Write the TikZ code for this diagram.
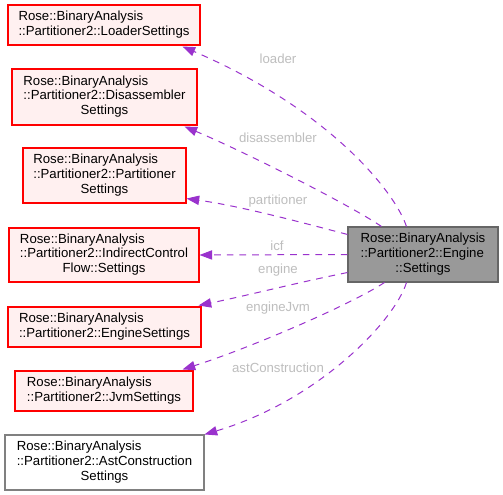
\documentclass[tikz,border=0pt]{standalone}
\usepackage{fontspec}
\setmainfont{Liberation Sans}
\usetikzlibrary{arrows.meta,calc}
\definecolor{edgecol}{HTML}{9A32CD}
\definecolor{boxfill}{HTML}{FFF0F0}
\definecolor{mainfill}{HTML}{999999}
\definecolor{mainborder}{HTML}{666666}
\definecolor{lblcol}{HTML}{BEBEBE}
\definecolor{grayborder}{HTML}{808080}
\begin{document}
\begin{tikzpicture}[x=0.75pt,y=-0.75pt,
  every node/.style={font=\fontsize{9.9pt}{11pt}\selectfont, inner sep=0pt},
  redbox/.style={draw=red, fill=boxfill, line width=0.8pt, rectangle},
  graybox/.style={draw=grayborder, fill=white, line width=0.8pt, rectangle},
  mainbox/.style={draw=mainborder, fill=mainfill, line width=0.8pt, rectangle},
  conn/.style={draw=edgecol, line width=0.75pt, dash pattern=on 5pt off 4.5pt,
    -{Triangle[length=9.5pt,width=7pt,fill=edgecol,sep=0pt]}},
  elbl/.style={text=lblcol}]
\useasboundingbox (0,0) rectangle (503,495);
\fill[white] (0,0) rectangle (503,495);

\node[redbox, minimum width=144pt, minimum height=30pt] (loader) at (104,25)
  {\begin{tabular}{@{}l@{}}Rose::BinaryAnalysis\\::Partitioner2::LoaderSettings\end{tabular}};
\node[redbox, minimum width=138.75pt, minimum height=42pt] (disasm) at (104.5,97)
  {\begin{tabular}{@{}l@{}}Rose::BinaryAnalysis\\::Partitioner2::Disassembler\\\multicolumn{1}{@{}c@{}}{Settings}\end{tabular}};
\node[redbox, minimum width=122.25pt, minimum height=41.25pt] (part) at (104.5,175.5)
  {\begin{tabular}{@{}l@{}}Rose::BinaryAnalysis\\::Partitioner2::Partitioner\\\multicolumn{1}{@{}c@{}}{Settings}\end{tabular}};
\node[redbox, minimum width=142.5pt, minimum height=40.5pt] (icf) at (104,255)
  {\begin{tabular}{@{}l@{}}Rose::BinaryAnalysis\\::Partitioner2::IndirectControl\\\multicolumn{1}{@{}c@{}}{Flow::Settings}\end{tabular}};
\node[redbox, minimum width=144.75pt, minimum height=30pt] (engS) at (104.5,327)
  {\begin{tabular}{@{}l@{}}Rose::BinaryAnalysis\\::Partitioner2::EngineSettings\end{tabular}};
\node[redbox, minimum width=133.5pt, minimum height=30pt] (jvm) at (104,391)
  {\begin{tabular}{@{}l@{}}Rose::BinaryAnalysis\\::Partitioner2::JvmSettings\end{tabular}};
\node[graybox, minimum width=149.25pt, minimum height=41.25pt] (ast) at (104.5,462.5)
  {\begin{tabular}{@{}l@{}}Rose::BinaryAnalysis\\::Partitioner2::AstConstruction\\\multicolumn{1}{@{}c@{}}{Settings}\end{tabular}};
\node[mainbox, minimum width=112.5pt, minimum height=41.25pt] (main) at (423,254.5)
  {\begin{tabular}{@{}l@{}}Rose::BinaryAnalysis\\::Partitioner2::Engine\\\multicolumn{1}{@{}c@{}}{::Settings}\end{tabular}};

% connectors
\draw[conn] ($(main.north west)+(59,0)$) .. controls (395,192) and (330,110) .. ($(loader.south west)+(175,1)$);
\draw[conn] ($(main.north west)+(34,0)$) .. controls (350,205) and (245,152) .. ($(disasm.south west)+(173,1)$);
\draw[conn] ($(main.north west)+(0,8)$) .. controls (300,222) and (240,206) .. ($(part.south east)+(0,-5)$);
\draw[conn] (main.west) -- (icf.east);
\draw[conn] ($(main.south west)+(0,-10)$) .. controls (300,282) and (245,296) .. ($(engS.north east)+(-3,-1)$);
\draw[conn] ($(main.south west)+(37,0)$) .. controls (350,305) and (250,348) .. ($(jvm.north east)+(-11,-1)$);
\draw[conn] ($(main.south west)+(59,0)$) .. controls (395,320) and (320,400) .. (ast.north east);

% labels
\node[elbl] (lloader) at (278,59) {loader};
\node[elbl] (ldisasm) at (278,138) {disassembler};
\node[elbl] (lpart) at (278,201) {partitioner};
\node[elbl] (licf) at (277,246) {icf};
\node[elbl] (lengine) at (278,270) {engine};
\node[elbl] (ljvm) at (278,308) {engineJvm};
\node[elbl] (last) at (278,368) {astConstruction};
\end{tikzpicture}
\end{document}
